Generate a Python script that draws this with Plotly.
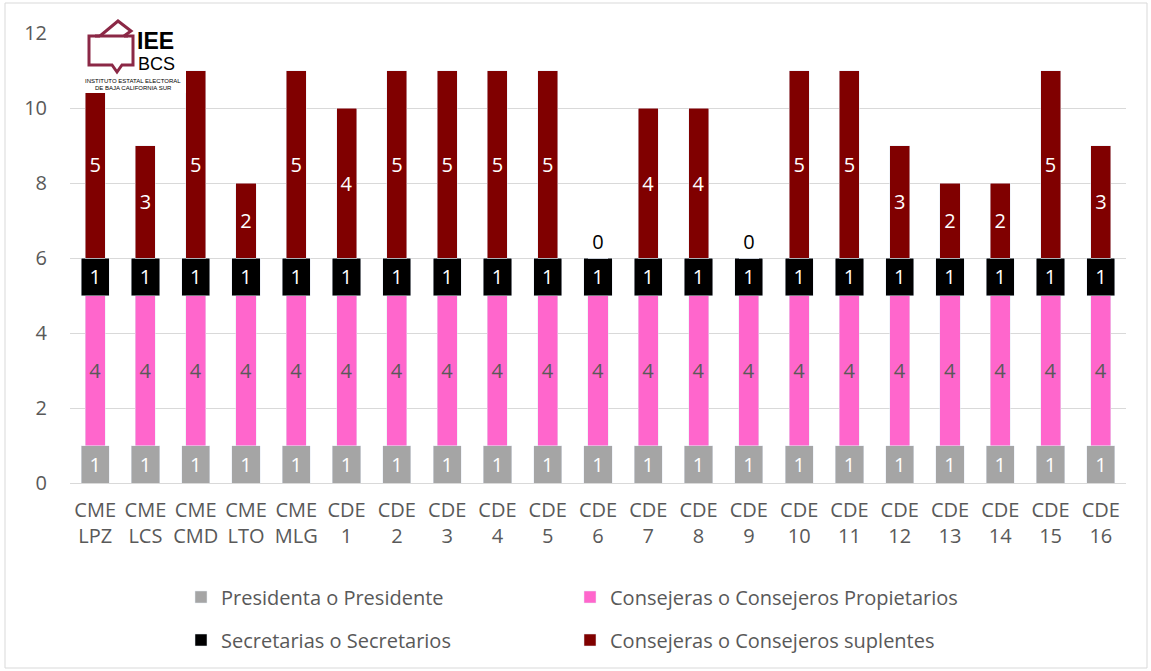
import plotly.graph_objects as go

categories = ["CME<br>LPZ", "CME<br>LCS", "CME<br>CMD", "CME<br>LTO", "CME<br>MLG",
              "CDE<br>1", "CDE<br>2", "CDE<br>3", "CDE<br>4", "CDE<br>5", "CDE<br>6",
              "CDE<br>7", "CDE<br>8", "CDE<br>9", "CDE<br>10", "CDE<br>11", "CDE<br>12",
              "CDE<br>13", "CDE<br>14", "CDE<br>15", "CDE<br>16"]
presidencia = [1] * 21
propietarios = [4] * 21
secretarias = [1] * 21
suplentes = [5, 3, 5, 2, 5, 4, 5, 5, 5, 5, 0, 4, 4, 0, 5, 5, 3, 2, 2, 5, 3]

FONT = "Open Sans"
TXT = "#595959"
FS = 20

# plot area in pixels
L, R, T, B = 70, 1126, 33, 483
def X(px):
    return (px - L) / (R - L)
def Y(py):
    return (B - py) / (B - T)

fig = go.Figure()
fig.add_trace(go.Bar(x=categories, y=presidencia, name="Presidenta o Presidente",
                     marker_color="#A5A5A5", width=0.56, text=presidencia,
                     textposition="inside", insidetextanchor="middle",
                     insidetextfont=dict(color="white", size=FS, family=FONT),
                     constraintext="none", legend="legend"))
fig.add_trace(go.Bar(x=categories, y=propietarios, name="Consejeras o Consejeros Propietarios",
                     marker_color="#FF66CC", width=0.40, text=propietarios,
                     textposition="inside", insidetextanchor="middle",
                     insidetextfont=dict(color=TXT, size=FS, family=FONT),
                     constraintext="none", legend="legend"))
fig.add_trace(go.Bar(x=categories, y=secretarias, name="Secretarias o Secretarios",
                     marker_color="#000000", width=0.56, text=secretarias,
                     textposition="inside", insidetextanchor="middle",
                     insidetextfont=dict(color="white", size=FS, family=FONT),
                     constraintext="none", legend="legend2"))
fig.add_trace(go.Bar(x=categories, y=suplentes, name="Consejeras o Consejeros suplentes",
                     marker_color="#800000", width=0.40, text=suplentes,
                     textposition=["outside" if v == 0 else "inside" for v in suplentes],
                     insidetextanchor="middle",
                     insidetextfont=dict(color="white", size=FS, family=FONT),
                     outsidetextfont=dict(color="black", size=FS, family=FONT),
                     constraintext="none", cliponaxis=False, legend="legend2"))

LOGO = "#8B2846"
shapes = [
    dict(type="rect", xref="paper", yref="paper", x0=X(5), x1=X(1147), y0=Y(668), y1=Y(3),
         line=dict(color="#D9D9D9", width=1), fillcolor="rgba(0,0,0,0)", layer="below"),
    # logo background
    dict(type="rect", xref="paper", yref="paper", x0=X(80), x1=X(186), y0=Y(93), y1=Y(17),
         line=dict(width=0), fillcolor="white", layer="above"),
]
def poly(pts, closed=False):
    p = "M " + " L ".join(f"{X(a)},{Y(b)}" for a, b in pts)
    return p + (" Z" if closed else "")
# ballot box (speech-bubble shaped)
box = [(100, 36), (89, 36), (89, 65), (112, 65), (117, 72), (122, 65), (133, 65), (133, 36), (124, 36)]
shapes.append(dict(type="path", xref="paper", yref="paper", path=poly(box),
                   line=dict(color=LOGO, width=3), layer="above"))
# ballot paper
paper = [(100, 36), (118, 21), (131, 31), (124, 36)]
shapes.append(dict(type="path", xref="paper", yref="paper", path=poly(paper),
                   line=dict(color=LOGO, width=3), layer="above"))
shapes.append(dict(type="line", xref="paper", yref="paper", x0=X(95), x1=X(128), y0=Y(36), y1=Y(36),
                   line=dict(color=LOGO, width=3), layer="above"))

def logo_text(txt, cx, cy, size):
    return dict(text=txt, x=X(cx), y=Y(cy), xref="paper", yref="paper", showarrow=False,
                xanchor="center", yanchor="middle", borderpad=0,
                font=dict(family="Liberation Sans", size=size, color="black"))

annotations = [
    logo_text("<b>IEE</b>", 155, 41, 23),
    logo_text("BCS", 156, 64, 18),
    logo_text("INSTITUTO ESTATAL ELECTORAL", 133, 81, 6),
    logo_text("DE BAJA CALIFORNIA SUR", 133, 88, 6),
]

fig.update_layout(
    width=1151, height=671,
    margin=dict(l=L, r=1151 - R, t=T, b=671 - B, autoexpand=False),
    barmode="stack",
    paper_bgcolor="white", plot_bgcolor="white",
    font=dict(family=FONT, size=FS, color=TXT),
    shapes=shapes, annotations=annotations,
    showlegend=True,
    legend=dict(orientation="h", x=X(181), y=Y(597), xanchor="left", yanchor="middle",
                entrywidth=344, entrywidthmode="pixels", bgcolor="rgba(0,0,0,0)",
                traceorder="normal", font=dict(family=FONT, size=FS, color=TXT)),
    legend2=dict(orientation="h", x=X(181), y=Y(640), xanchor="left", yanchor="middle",
                 entrywidth=344, entrywidthmode="pixels", bgcolor="rgba(0,0,0,0)",
                 traceorder="normal", font=dict(family=FONT, size=FS, color=TXT)),
)
fig.update_xaxes(showgrid=False, showline=True, linecolor="#D9D9D9", linewidth=1,
                 tickfont=dict(family=FONT, size=FS, color=TXT), ticks="",
                 ticklabelstandoff=9, automargin=False)
fig.update_yaxes(range=[0, 12], tickvals=[0, 2, 4, 6, 8, 10, 12], showgrid=True,
                 gridcolor="#D9D9D9", gridwidth=1, zeroline=False, showline=False,
                 tickfont=dict(family=FONT, size=FS, color=TXT), ticks="",
                 ticklabelstandoff=22, automargin=False)

fig.write_html("out.html", config={"displayModeBar": False},
               post_script="document.body.style.margin='0';")
